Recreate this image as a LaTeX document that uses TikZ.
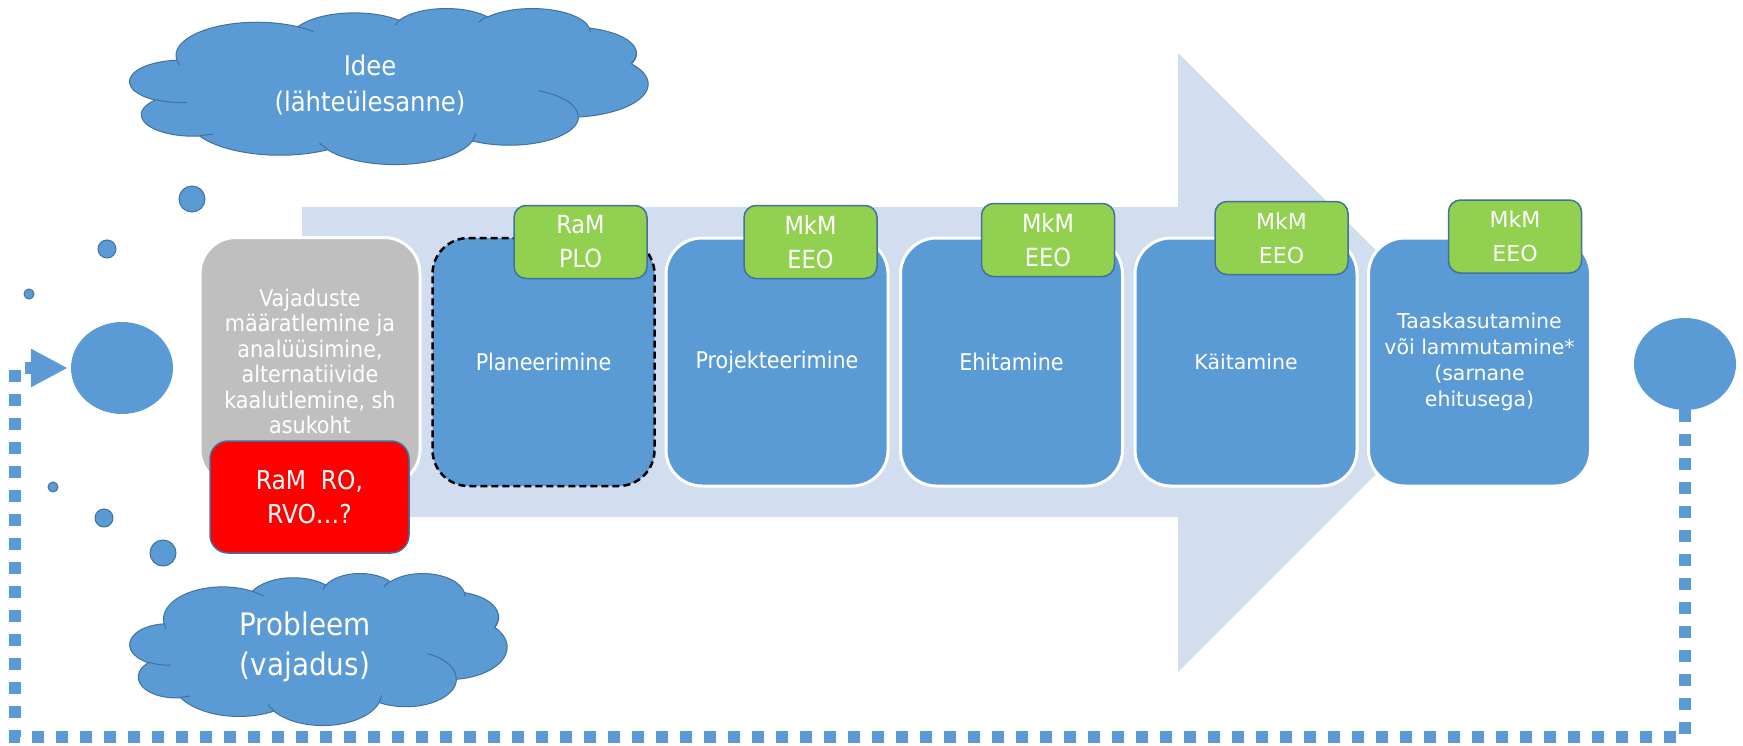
\documentclass[tikz,border=0pt]{standalone}
\usepackage{fontspec}
\setmainfont{DejaVu Sans Condensed}
\newfontfamily\widefont{DejaVu Sans}
\usetikzlibrary{shapes.geometric,arrows.meta}
\definecolor{pblue}{RGB}{91,155,213}
\definecolor{pdark}{RGB}{65,113,156}
\definecolor{pgreen}{RGB}{146,208,80}
\definecolor{pgrey}{RGB}{191,191,191}
\definecolor{bgarrow}{RGB}{210,222,239}
\definecolor{pred}{RGB}{255,0,0}
\tikzset{
  carc/.style n args={4}{insert path={
    \pgfextra{%
      \pgfmathsetmacro\cts{atan2(#3*sin(#1),#4*cos(#1))}%
      \pgfmathsetmacro\cte{atan2(#3*sin(#1+#2),#4*cos(#1+#2))}%
      \pgfmathsetmacro\cdl{(#2>0) ? mod(\cte-\cts+720,360) : -mod(\cts-\cte+720,360)}%
    }
    arc[start angle=\cts, delta angle=\cdl, x radius=#3, y radius=#4]}}
}
\newcommand\pptcloud[4]{%
  \begin{scope}[shift={(#1,#2)}, xscale=#3/43.2, yscale=#4/43.2]
    \filldraw[fill=pblue, draw=pdark, line width=1pt]
      (3.9,14.37)
      [carc={-190.4875}{123.7805}{6.753}{9.190}]
      [carc={-144.1024}{89.9452}{5.333}{7.267}]
      [carc={-145.8079}{99.7230}{4.365}{5.945}]
      [carc={-130.9861}{117.2417}{4.857}{6.595}]
      [carc={-78.7089}{109.0269}{5.333}{7.273}]
      [carc={-46.2673}{130.2690}{6.775}{9.220}]
      [carc={0.6250}{114.0333}{5.785}{7.867}]
      [carc={22.4516}{115.1726}{6.752}{9.215}]
      [carc={66.2426}{75.7110}{7.720}{10.543}]
      [carc={-274.9421}{146.7356}{4.360}{5.951}]
      [carc={-246.8285}{152.5189}{4.345}{5.945}]
      -- cycle;
    \draw[pdark, line width=1pt]
      (4.693,26.177) [carc={86.742}{26.4295}{4.345}{5.945}]
      (6.928,34.899) [carc={73.6105}{11.4475}{4.360}{5.951}]
      (16.478,39.090) [carc={137.6242}{14.0811}{6.752}{9.215}]
      (28.827,34.751) [carc={6.4533}{15.9984}{6.752}{9.215}]
      (34.129,22.954) [carc={-70.2924}{70.9174}{5.785}{7.867}]
      (41.798,15.354) [carc={30.3180}{-27.7515}{5.333}{7.273}]
      (38.324,5.426) [carc={-13.7443}{14.8589}{4.857}{6.595}]
      (29.078,3.952) [carc={-149.1815}{18.1954}{4.857}{6.595}]
      (22.141,4.720) [carc={-163.4943}{19.0008}{4.365}{5.945}]
      (14.000,5.192) [carc={-66.7070}{12.3194}{6.753}{9.190}]
      (4.127,15.789) [carc={157.6544}{11.8582}{6.753}{9.190}];
  \end{scope}}
\begin{document}
\begin{tikzpicture}[x=1pt,y=-1pt,
  stagebox/.style={rectangle, rounded corners=36pt, fill=pblue, draw=white, line width=3pt,
    minimum width=222pt, minimum height=248pt, inner sep=0pt, text=white, align=center,
    font=\fontsize{23}{25.5}\selectfont},
  widestage/.style={stagebox, font=\widefont\fontsize{20.5}{26}\selectfont},
  tagbox/.style={rectangle, rounded corners=12pt, fill=pgreen, draw=pdark, line width=1.5pt,
    minimum width=133pt, minimum height=73pt, inner sep=0pt, text=white, align=center,
    font=\fontsize{25}{34}\selectfont},
  widetag/.style={tagbox, font=\widefont\fontsize{22}{34}\selectfont},
  cloudtext/.style={text=white, align=center, inner sep=0pt},
  bubble/.style={circle, fill=pblue, draw=pdark, line width=1pt, inner sep=0pt},
  bigdot/.style={ellipse, fill=pblue, inner sep=0pt, minimum width=102pt, minimum height=92pt},
  dotline/.style={draw=pblue, line width=12pt, dash pattern=on 12pt off 12pt}
]
\useasboundingbox (0,0) rectangle (1743,745);

% background arrow
\fill[bgarrow] (302,207) -- (1178,207) -- (1178,53) -- (1488,362) -- (1178,672)
  -- (1178,517) -- (302,517) -- cycle;

% end circles
\node[bigdot] (lc) at (122,368) {};
\node[bigdot] (rc) at (1685,364) {};

% dotted return connector
\coordinate (cbr) at (1685,737);
\coordinate (cbl) at (15,737);
\coordinate (ctl) at (15,368);
\draw[dotline, -{Triangle[length=37pt,width=36pt]}, shorten >=3pt]
  (rc.south) -- (cbr) -- (cbl) -- (ctl) -- (lc.west);

% thought bubbles
\node[bubble, minimum size=26pt] (b1) at (192,199) {};
\node[bubble, minimum size=18pt] (b2) at (107,249) {};
\node[bubble, minimum size=10pt] (b3) at (29,294) {};
\node[bubble, minimum size=10pt] (b4) at (53,487) {};
\node[bubble, minimum size=18pt] (b5) at (104,518) {};
\node[bubble, minimum size=26pt] (b6) at (163,553) {};

% clouds
\pptcloud{130}{8}{518}{156}
\node[cloudtext, font=\fontsize{27}{36}\selectfont] (ideetext) at (370,85) {Idee\\(lähteülesanne)};
\pptcloud{130}{573}{377}{152}
\node[cloudtext, font=\fontsize{31}{40}\selectfont] (probtext) at (305,647) {Probleem\\(vajadus)};

% stages
\node[stagebox, fill=pgrey, minimum width=220pt] (needs) at (310,361.5)
  {Vajaduste\\määratlemine ja\\analüüsimine,\\alternatiivide\\kaalutlemine, sh\\asukoht};
\node[rectangle, rounded corners=18pt, fill=pred, draw=pdark, line width=1.5pt,
  minimum width=199pt, minimum height=112pt, inner sep=0pt, text=white, align=center,
  font=\fontsize{26}{34}\selectfont] (ro) at (309.5,497) {RaM\ \ RO,\\RVO…?};
\node[stagebox, draw=black, line width=2.5pt, dash pattern=on 7pt off 4pt] (plan) at (543.5,362) {Planeerimine};
\node[stagebox] (proj) at (777,362) {Projekteerimine};
\node[stagebox] (ehit) at (1011.5,362) {Ehitamine};
\node[widestage] (kait) at (1246,362) {Käitamine};
\node[widestage] (taas) at (1479.5,362) {Taaskasutamine\\või lammutamine*\\(sarnane\\ehitusega)};

% tags
\node[tagbox] (tplan) at (580.5,242) {RaM\\PLO};
\node[tagbox] (tproj) at (810.5,242) {MkM\\EEO};
\node[tagbox] (tehit) at (1048,240) {MkM\\EEO};
\node[widetag] (tkait) at (1281.5,238) {MkM\\EEO};
\node[widetag] (ttaas) at (1515,236.5) {MkM\\EEO};
\end{tikzpicture}
\end{document}
